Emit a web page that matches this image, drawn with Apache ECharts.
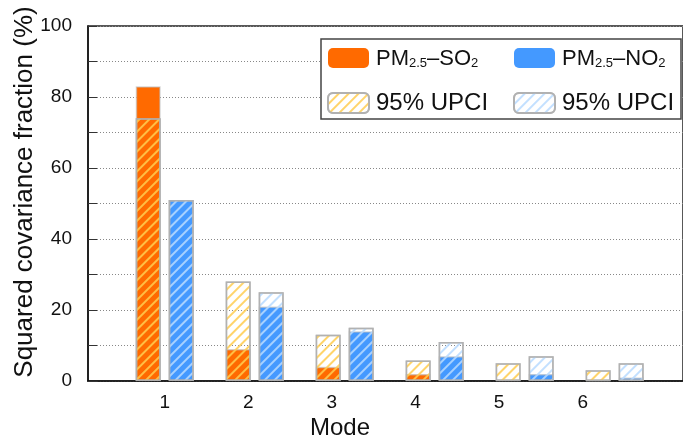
<!DOCTYPE html>
<html>
<head>
<meta charset="utf-8">
<script src="https://cdn.jsdelivr.net/npm/echarts@6/dist/echarts.min.js"></script>
<style>
html,body{margin:0;padding:0;background:#fff;}
#chart{width:683px;height:439px;}
</style>
</head>
<body>
<div id="chart"></div>
<script>
// ---- data ----
const modes = [1, 2, 3, 4, 5, 6];
const so2Frac = [83, 9, 4, 2, 0.3, 0.2];
const so2Upci = [74, 28, 13, 5.8, 5, 3];
const no2Frac = [51, 21, 14, 7, 2, 1];
const no2Upci = [51, 25, 15, 11, 7, 5];
const yTicks = [0, 20, 40, 60, 80, 100];

const FONT = 'Liberation Sans';
const chart = echarts.init(document.getElementById('chart'), null, {renderer: 'canvas'});

const orange = '#FF6A00';
const blue = '#4499FF';
const hatch = (c) => ({
  symbol: 'rect', symbolSize: 1,
  dashArrayX: [1, 0], dashArrayY: [2, 5],
  rotation: -Math.PI / 4, color: c
});
const toPairs = (arr) => modes.map((m, i) => [m, arr[i]]);

const barAxis = (i) => ({
  type: 'value', gridIndex: 0, position: 'bottom', min: 0.1475, max: 0.1475 + 605 / 91.5,
  axisLine: {show: i === 0, lineStyle: {color: '#111', width: 1.5}},
  axisTick: {show: false}, axisLabel: {show: false}, splitLine: {show: false}
});

const legendText = {
  fontFamily: FONT, fontSize: 22, color: '#111',
  rich: {
    n: {fontFamily: FONT, fontSize: 22, color: '#111', lineHeight: 24, verticalAlign: 'bottom', padding: [0, 0, 0, 2]},
    m: {fontFamily: FONT, fontSize: 22, color: '#111', lineHeight: 24, verticalAlign: 'bottom'},
    u: {fontFamily: FONT, fontSize: 24, color: '#111', lineHeight: 24, verticalAlign: 'bottom', padding: [0, 0, 0, 2]},
    s: {fontFamily: FONT, fontSize: 13, color: '#111', lineHeight: 14, verticalAlign: 'bottom'}
  }
};
const legendFormatter = (name) => {
  if (name === 'PM2.5–SO2') return '{n|PM}{s|2.5}{m|–SO}{s|2}';
  if (name === 'PM2.5–NO2') return '{n|PM}{s|2.5}{m|–NO}{s|2}';
  return '{u|95% UPCI}';
};
const legendBase = {
  top: 48, orient: 'vertical', padding: 0,
  itemWidth: 41, itemHeight: 20, itemGap: 21,
  formatter: legendFormatter, textStyle: legendText, z: 6
};

const option = {
  backgroundColor: '#fff',
  animation: false,
  grid: {left: 88, top: 26, right: -10, bottom: 58, show: true, borderColor: '#222', borderWidth: 1.5, backgroundColor: 'transparent'},
  title: {
    text: 'Mode', left: 335, top: 411, textAlign: 'center',
    textStyle: {fontFamily: FONT, fontSize: 24, fontWeight: 'normal', color: '#111'}
  },
  graphic: [
    {
      type: 'text', x: 25, y: 192, rotation: Math.PI / 2,
      style: {text: 'Squared covariance fraction (%)', font: '26px "Liberation Sans"', fill: '#111', textAlign: 'center', textVerticalAlign: 'middle'}
    },
    {
      type: 'rect', z: 5, shape: {x: 321, y: 39, width: 360, height: 80},
      style: {fill: '#fff', stroke: '#444', lineWidth: 1.5}
    }
  ],
  legend: [
    Object.assign({}, legendBase, {
      left: 327,
      data: [{name: 'PM2.5–SO2', itemStyle: {borderWidth: 0}}, {name: '95% UPCI (SO2)'}]
    }),
    Object.assign({}, legendBase, {
      left: 513,
      data: [{name: 'PM2.5–NO2', itemStyle: {borderWidth: 0}}, {name: '95% UPCI (NO2)'}]
    })
  ],
  xAxis: [
    barAxis(0),
    barAxis(1),
    {
      type: 'value', gridIndex: 0, position: 'bottom', min: 1 - 78 / 85, max: 1 - 78 / 85 + 605 / 85,
      axisLine: {show: false}, axisTick: {show: false}, splitLine: {show: false},
      axisLabel: {customValues: modes, margin: 12, fontFamily: FONT, fontSize: 19, color: '#111'}
    }
  ],
  yAxis: {
    type: 'value', min: 0, max: 100, interval: 10,
    axisLine: {show: true, lineStyle: {color: '#111', width: 1.5}},
    axisTick: {show: true, inside: true, length: 9, lineStyle: {color: '#333', width: 1}},
    axisLabel: {
      margin: 16, fontFamily: FONT, fontSize: 19, color: '#111',
      formatter: (v) => (yTicks.indexOf(v) >= 0 ? String(v) : '')
    },
    splitLine: {show: true, lineStyle: {color: '#888', width: 1, type: [1, 2]}}
  },
  series: [
    {
      name: 'PM2.5–SO2', type: 'bar', xAxisIndex: 0, data: toPairs(so2Frac),
      barWidth: 25, barGap: '32%',
      itemStyle: {color: orange, borderColor: 'rgba(190,190,190,0.6)', borderWidth: 1.5}
    },
    {
      name: 'PM2.5–NO2', type: 'bar', xAxisIndex: 0, data: toPairs(no2Frac),
      barWidth: 25, barGap: '32%',
      itemStyle: {color: blue, borderColor: 'rgba(190,190,190,0.6)', borderWidth: 1.5}
    },
    {
      name: '95% UPCI (SO2)', type: 'bar', xAxisIndex: 1, data: toPairs(so2Upci),
      barWidth: 25, barGap: '32%',
      itemStyle: {color: 'rgba(255,255,255,0)', borderColor: 'rgba(175,175,175,0.85)', borderWidth: 1.5, decal: hatch('rgba(255,205,80,0.85)')}
    },
    {
      name: '95% UPCI (NO2)', type: 'bar', xAxisIndex: 1, data: toPairs(no2Upci),
      barWidth: 25, barGap: '32%',
      itemStyle: {color: 'rgba(255,255,255,0)', borderColor: 'rgba(175,175,175,0.85)', borderWidth: 1.5, decal: hatch('rgba(185,218,255,0.85)')}
    }
  ]
};
chart.setOption(option);
</script>
</body>
</html>
